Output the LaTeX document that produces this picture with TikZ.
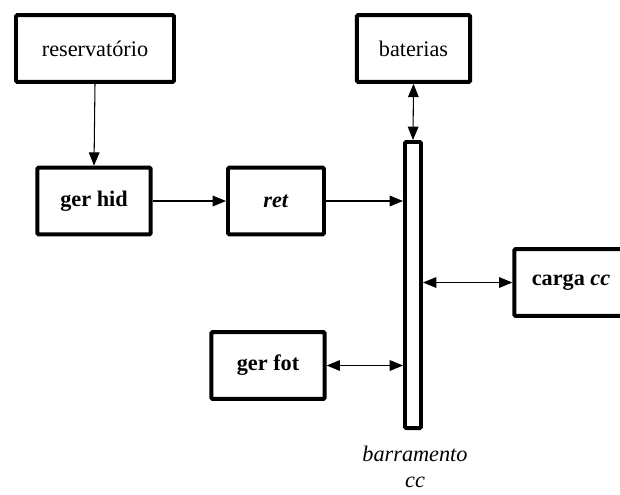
\documentclass[tikz,border=0pt]{standalone}
\usepackage{fontspec}
\setmainfont{Liberation Serif}
\usetikzlibrary{arrows.meta}

\begin{document}
\begin{tikzpicture}[x=0.03cm,y=-0.03cm,
  bloco/.style={draw,line width=3.4pt,rounded corners=1pt,minimum width=3.4cm,minimum height=2.0cm,font=\fontsize{19}{22}\selectfont},
  liga/.style={line width=0.9pt,-{Triangle[length=0.4cm,width=0.32cm]}},
  ligadupla/.style={line width=0.9pt,{Triangle[length=0.4cm,width=0.32cm]}-{Triangle[length=0.4cm,width=0.32cm]}}]
\useasboundingbox (0,0) rectangle (620,494);
\node[bloco,minimum width=4.74cm] (res) at (95,48.5) {reservat\'orio};
\node[bloco] (hid) at (94,201) {\textbf{ger hid}};
\node[bloco,minimum width=2.88cm] (ret) at (276,201) {\textbf{\textit{ret}}};
\node[bloco] (bat) at (413.5,48.5) {baterias};
\node[bloco,minimum width=0.48cm,minimum height=8.58cm] (bus) at (413,285) {};
\node[bloco] (carga) at (571,282.5) {\textbf{carga \textit{cc}}};
\node[bloco] (fot) at (268,365.5) {\textbf{ger fot}};
\node[align=center,inner sep=0pt,font=\fontsize{19}{22}\selectfont\itshape] (nome) at (415,467) {barramento\\cc};
\draw[liga] (res.south) -- (hid.north);
\draw[liga] (hid.east) -- (ret.west);
\draw[liga] (ret.east) -- (ret.east -| bus.west);
\draw[ligadupla] (bat.south) -- (bus.north);
\draw[ligadupla] (carga.west -| bus.east) -- (carga.west);
\draw[ligadupla] (fot.east) -- (fot.east -| bus.west);
\end{tikzpicture}
\end{document}
